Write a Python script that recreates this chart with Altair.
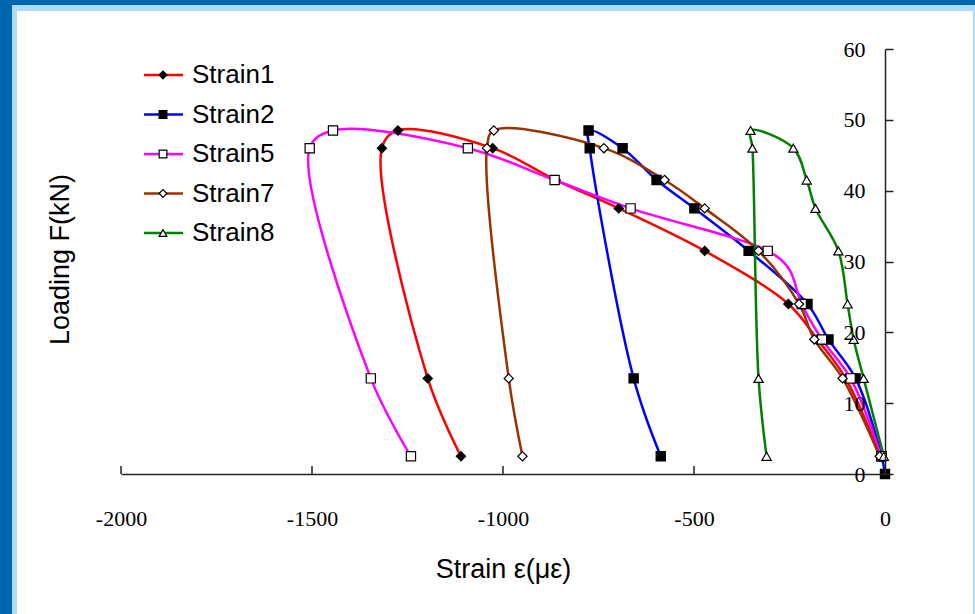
import altair as alt
import pandas as pd

series_names = ["Strain1", "Strain2", "Strain5", "Strain7", "Strain8"]
line_colors = ["#FF0000", "#0000FF", "#FF00FF", "#993300", "#008000"]
marker_shapes = ["diamond", "square", "square", "diamond", "triangle-up"]
marker_fills = ["black", "black", "white", "white", "white"]

x_ticks = [-2000, -1500, -1000, -500, 0]
y_ticks = [0, 10, 20, 30, 40, 50, 60]

# Strain1
s1_load = [2.5, 13.5, 19, 24, 31.5, 37.5, 41.5, 46, 48.5, 46, 13.5, 2.5]
s1_strain = [-12, -103, -177, -253, -472, -697, -862, -1027, -1275, -1317, -1197, -1110]
s1_mark = [1, 1, 1, 1, 1, 1, 1, 1, 1, 1, 1, 1]
# Strain2
s2_load = [0, 2.5, 13.5, 19, 24, 31.5, 37.5, 41.5, 46, 48.5, 46, 13.5, 2.5]
s2_strain = [0, -9, -77, -148, -203, -357, -499, -598, -687, -776, -773, -658, -587]
s2_mark = [1, 1, 1, 1, 1, 1, 1, 1, 1, 1, 1, 1, 1]
# Strain5
s5_load = [2.5, 13.5, 19, 24, 29, 31.5, 37.5, 41.5, 46, 48.5, 46, 13.5, 2.5]
s5_strain = [-10, -90, -165, -218, -252, -307, -666, -865, -1092, -1445, -1506, -1346, -1241]
s5_mark = [1, 1, 1, 1, 0, 1, 1, 1, 1, 1, 1, 1, 1]
# Strain7
s7_load = [2.5, 13.5, 19, 24, 31.5, 37.5, 41.5, 46, 48.5, 46, 13.5, 2.5]
s7_strain = [-14, -111, -185, -225, -331, -472, -577, -736, -1024, -1042, -985, -949]
s7_mark = [1, 1, 1, 1, 1, 1, 1, 1, 1, 1, 1, 1]
# Strain8
s8_load = [2.5, 13.5, 19, 24, 31.5, 37.5, 41.5, 46, 48.5, 46, 13.5, 2.5]
s8_strain = [-3, -56, -82, -98, -122, -182, -205, -240, -352, -347, -331, -310]
s8_mark = [1, 1, 1, 1, 1, 1, 1, 1, 1, 1, 1, 1]

rows = []
for name, xs, ys, ms in [
    ("Strain1", s1_strain, s1_load, s1_mark),
    ("Strain2", s2_strain, s2_load, s2_mark),
    ("Strain5", s5_strain, s5_load, s5_mark),
    ("Strain7", s7_strain, s7_load, s7_mark),
    ("Strain8", s8_strain, s8_load, s8_mark),
]:
    for i, (xv, yv, mv) in enumerate(zip(xs, ys, ms)):
        rows.append({"series": name, "idx": i, "x": xv, "y": yv, "m": mv})
df = pd.DataFrame(rows)

W, H = 764, 425

color_scale = alt.Scale(domain=series_names, range=line_colors)
shape_scale = alt.Scale(domain=series_names, range=marker_shapes)
fill_scale = alt.Scale(domain=series_names, range=marker_fills)

x_axis = alt.Axis(
    values=x_ticks, ticks=False, grid=False, zindex=1,
    domainColor="#222222", domainWidth=1.5,
    labelFont="Liberation Serif", labelFontSize=22, labelColor="black",
    labelPadding=34, labelFlush=False, labelOverlap=False,
    labelExpr="datum.value + ''",
    title="Strain ε(με)", titleFont="Liberation Sans", titleFontSize=27,
    titleFontWeight="normal", titleColor="black", titleY=95, titleBaseline="middle",
)
y_axis = alt.Axis(
    orient="right", values=y_ticks, grid=False, zindex=1,
    domainColor="#222222", domainWidth=1.5,
    tickColor="#222222", tickWidth=1.5, tickSize=8,
    labelAlign="right", labelBaseline="middle", labelPadding=-28,
    labelFont="Liberation Serif", labelFontSize=22, labelColor="black",
    labelFlush=False, labelOverlap=False,
    title="Loading F(kN)", titleFont="Liberation Sans", titleFontSize=27,
    titleFontWeight="normal", titleColor="black",
    titleAngle=270, titleX=-825, titleY=210, titleAlign="center", titleBaseline="middle",
)

X = alt.X("x:Q", scale=alt.Scale(domain=[-2000, 0], nice=False, zero=False), axis=x_axis)
Y = alt.Y("y:Q", scale=alt.Scale(domain=[0, 60], nice=False), axis=y_axis)

base = alt.Chart(df)
lines = base.mark_line(interpolate="catmull-rom", strokeWidth=2.5).encode(
    x=X, y=Y,
    color=alt.Color("series:N", scale=color_scale, legend=None),
    order="idx:Q",
    detail="series:N",
)
points = base.transform_filter("datum.m == 1").mark_point(
    stroke="black", strokeWidth=1.2, opacity=1, size=85
).encode(
    x=X, y=Y,
    shape=alt.Shape("series:N", scale=shape_scale, legend=None),
    fill=alt.Fill("series:N", scale=fill_scale, legend=None),
)
tick_df = pd.DataFrame({"x": x_ticks})
xticks = alt.Chart(tick_df).mark_rule(color="#222222", strokeWidth=1.5).encode(
    x=X, y=alt.value(H), y2=alt.value(H - 8)
)
main = alt.layer(lines, points, xticks)

# frame decoration
frame_df = pd.DataFrame({"a": [0]})
frame_light = alt.Chart(frame_df).mark_rect(color="#ADDCF8").encode(
    x=alt.value(-109), x2=alt.value(854), y=alt.value(-44), y2=alt.value(565)
)
frame_white = alt.Chart(frame_df).mark_rect(color="white").encode(
    x=alt.value(-104), x2=alt.value(852), y=alt.value(-38), y2=alt.value(565)
)

# legend
leg_df = pd.DataFrame({"series": series_names})
LY = alt.Y("series:N", scale=alt.Scale(type="point", domain=series_names, range=[26, 184], padding=0), axis=None)
leg_base = alt.Chart(leg_df)
leg_rule = leg_base.mark_rule(strokeWidth=2.5).encode(
    x=alt.value(23), x2=alt.value(62), y=LY,
    color=alt.Color("series:N", scale=color_scale, legend=None),
)
leg_pt = leg_base.mark_point(stroke="black", strokeWidth=1.2, opacity=1, size=60).encode(
    x=alt.value(42), y=LY,
    shape=alt.Shape("series:N", scale=shape_scale, legend=None),
    fill=alt.Fill("series:N", scale=fill_scale, legend=None),
)
leg_txt = leg_base.mark_text(
    align="left", baseline="middle", font="Liberation Sans", fontSize=26, color="black"
).encode(x=alt.value(71), y=LY, text="series:N")
legend = alt.layer(leg_rule, leg_pt, leg_txt)

chart = alt.layer(frame_light, frame_white, main, legend).resolve_scale(
    y="independent"
).properties(
    width=W, height=H,
    background="#0066B0",
    padding={"left": 121, "top": 49, "right": 90, "bottom": 140},
    autosize=alt.AutoSizeParams(type="none"),
).configure_view(stroke=None)

chart.save("out.html", embed_options={"renderer": "svg", "actions": False})
